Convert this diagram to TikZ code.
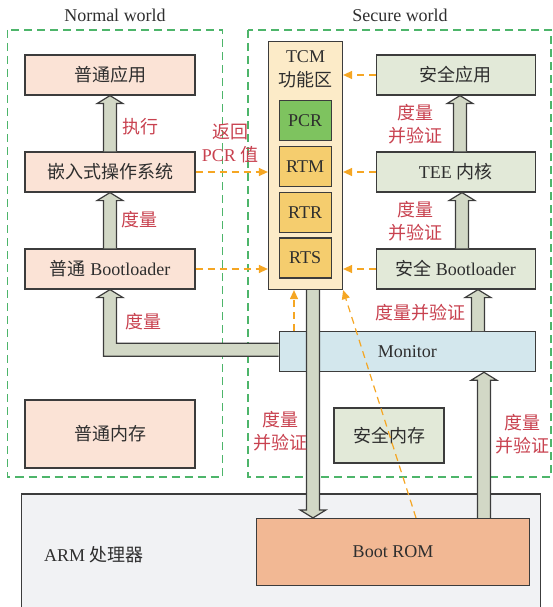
\documentclass[tikz,border=0pt]{standalone}
\usepackage{fontspec}
\setmainfont{Liberation Serif}
\newfontfamily\cjk{Noto Sans CJK SC}
\usetikzlibrary{arrows.meta,calc}

\definecolor{edge}{HTML}{3C3C3C}
\definecolor{txt}{HTML}{2E2E2E}
\definecolor{nfill}{HTML}{FBE3D6}
\definecolor{sfill}{HTML}{E2E9D8}
\definecolor{tcmfill}{HTML}{FCEBC8}
\definecolor{pcrfill}{HTML}{7EC35F}
\definecolor{rfill}{HTML}{F5CD6E}
\definecolor{monfill}{HTML}{D3E7ED}
\definecolor{armfill}{HTML}{F1F2F4}
\definecolor{romfill}{HTML}{F2B894}
\definecolor{fatfill}{HTML}{D2D8C6}
\definecolor{worldgreen}{HTML}{4DB56A}
\definecolor{dashorange}{HTML}{F5A623}
\definecolor{labelred}{HTML}{C8414F}

% hollow block arrow along a vertical line: #1 head length (+ up, - down), #2 tail, #3 tip
\newcommand\fatv[3]{%
  \draw[fat] let \p1=#2, \p2=#3 in
    ({\x1-6.5pt},{\y1}) -- ({\x1-6.5pt},{\y2-(#1)}) -- ({\x1-13pt},{\y2-(#1)}) -- ({\x1},{\y2})
    -- ({\x1+13pt},{\y2-(#1)}) -- ({\x1+6.5pt},{\y2-(#1)}) -- ({\x1+6.5pt},{\y1});}

\begin{document}
\begin{tikzpicture}[x=1pt,y=-1pt,
  every node/.style={font=\fontsize{18}{23}\selectfont, text=txt},
  box/.style={draw=edge, line width=1.2pt, inner sep=0pt, minimum height=40pt},
  nbox/.style={box, fill=nfill, minimum width=170pt},
  sbox/.style={box, fill=sfill, minimum width=159pt},
  reg/.style={box, fill=rfill, minimum width=52pt},
  world/.style={draw=worldgreen, line width=1.1pt, dash pattern=on 8pt off 5pt},
  fat/.style={draw=edge, fill=fatfill, line width=1.2pt, line join=miter},
  orng/.style={draw=dashorange, line width=1.2pt, dash pattern=on 7pt off 5pt,
    -{Triangle[length=9pt,width=8pt]}},
  redlbl/.style={text=labelred, align=center, font=\fontsize{18}{23}\selectfont\cjk},
]
\useasboundingbox (0,0) rectangle (552,607);

% the two worlds
\draw[world] (7.5,30) rectangle (222.5,477);
\draw[world] (248,30) rectangle (551,477);
\node (nwl) at (115,15) {Normal world};
\node (swl) at (400,15) {Secure world};

% processor
\draw[draw=edge, fill=armfill, line width=1.2pt] (21.5,494) rectangle (540.5,620);
\node[anchor=west, inner sep=0pt] (arm) at (44,555) {ARM {\cjk 处理器}};
\node[box, fill=romfill, minimum width=273pt, minimum height=67pt] (rom) at (393,552) {Boot ROM};

% normal world
\node[nbox] (nApp) at (110,75) {\cjk 普通应用};
\node[nbox] (nOS) at (110,172) {\cjk 嵌入式操作系统};
\node[nbox] (nBL) at (110,269) {{\cjk 普通} Bootloader};
\node[nbox, minimum height=68pt] (nMem) at (110,434) {\cjk 普通内存};

% TCM
\node[box, fill=tcmfill, minimum width=74pt, minimum height=248pt] (tcm) at (305.5,165.5) {};
\node (tcmA) at (305.5,57) {TCM};
\node (tcmB) at (305.5,80) {\cjk 功能区};
\node[reg, fill=pcrfill] (pcr) at (305.2,120.7) {PCR};
\node[reg] (rtm) at (305.2,166.5) {RTM};
\node[reg] (rtr) at (305.2,212.2) {RTR};
\node[reg] (rts) at (305.2,258) {RTS};

% secure world
\node[sbox] (sApp) at (455.7,75) {\cjk 安全应用};
\node[sbox] (sTEE) at (455.7,172) {TEE {\cjk 内核}};
\node[sbox] (sBL) at (455.7,269) {{\cjk 安全} Bootloader};
\node[box, fill=monfill, minimum width=256pt] (mon) at (407.3,351.7) {Monitor};
\node[box, fill=sfill, minimum width=110pt, minimum height=55pt] (sMem) at (389,435.5) {\cjk 安全内存};

% measurement chains
\fatv{8pt}{(nOS.north)}{(nApp.south)}
\fatv{8pt}{(nBL.north)}{(nOS.south)}
\fatv{8pt}{($(sTEE.north)+(4.3,0)$)}{($(sApp.south)+(4.3,0)$)}
\fatv{8pt}{($(sBL.north)+(6.3,0)$)}{($(sTEE.south)+(6.3,0)$)}
\fatv{8pt}{($(mon.north)+(70.7,0)$)}{($(sBL.south)+(22.3,0)$)}
\fatv{8pt}{($(rom.north)+(91,0)$)}{($(mon.south)+(76.7,0)$)}
\fatv{-8pt}{($(tcm.south)+(7.5,0)$)}{($(rom.north)+(-79.7,0)$)}
\draw[fat] let \p1=($(mon.west)+(0,-2)$), \p2=(nBL.south) in
  ({\x1},{\y1+6.5pt}) -- ({\x2+6.5pt},{\y1+6.5pt}) -- ({\x2+6.5pt},{\y2-8pt}) -- ({\x2+13pt},{\y2-8pt})
  -- ({\x2},{\y2}) -- ({\x2-13pt},{\y2-8pt}) -- ({\x2-6.5pt},{\y2-8pt}) -- ({\x2-6.5pt},{\y1-6.5pt})
  -- ({\x1},{\y1-6.5pt});

% PCR reports
\coordinate (mx) at (294,0);
\draw[orng] (nOS.east) -- (nOS.east -| tcm.west);
\draw[orng] (nBL.east) -- (nBL.east -| tcm.west);
\draw[orng] (sApp.west) -- (sApp.west -| tcm.east);
\draw[orng] (sTEE.west) -- (sTEE.west -| tcm.east);
\draw[orng] (sBL.west) -- (sBL.west -| tcm.east);
\draw[orng] (mon.north -| mx) -- (tcm.south -| mx);
\draw[orng] ($(rom.north)+(23,0)$) -- (tcm.south east);

% labels
\node[redlbl] (l1) at (140,127) {执行};
\node[redlbl] (l2) at (139,220) {度量};
\node[redlbl] (l3) at (143,322) {度量};
\node[redlbl] (l4) at (230,143) {返回\\{\rmfamily PCR} 值};
\node[redlbl] (l5) at (415,124.5) {度量\\并验证};
\node[redlbl] (l6) at (415,221) {度量\\并验证};
\node[redlbl] (l7) at (420,313) {度量并验证};
\node[redlbl] (l8) at (280,431) {度量\\并验证};
\node[redlbl] (l9) at (522,434.5) {度量\\并验证};
\end{tikzpicture}
\end{document}
